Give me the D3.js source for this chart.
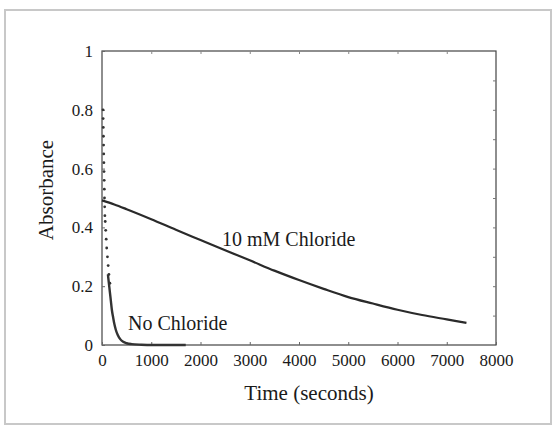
<!DOCTYPE html>
<html>
<head>
<meta charset="utf-8">
<script src="https://cdn.jsdelivr.net/npm/d3@7"></script>
<style>
  body { margin: 0; background: #fff; }
  svg text { font-family: "Times New Roman", "Liberation Serif", Times, "DejaVu Serif", serif; fill: #1a1a1a; }
</style>
</head>
<body>
<div id="chart"></div>
<script>
// values
var xTicks = [0, 1000, 2000, 3000, 4000, 5000, 6000, 7000, 8000];
var yTicks = [0, 0.2, 0.4, 0.6, 0.8, 1];
var yMinorTicks = [0.1, 0.2, 0.3, 0.4, 0.5, 0.6, 0.7, 0.8, 0.9];

var chlorideTime = [0, 250, 500, 1000, 1500, 2000, 2500, 3000, 3500, 4000, 4500, 5000, 5500, 6000, 6500, 7000, 7400];
var chlorideAbs  = [0.492, 0.478, 0.462, 0.428, 0.392, 0.357, 0.322, 0.288, 0.253, 0.221, 0.191, 0.163, 0.141, 0.120, 0.102, 0.087, 0.075];

var noClTime = [0, 3, 6, 9, 12, 15, 18, 21, 24, 27, 30, 34, 38, 45, 55, 65, 75, 90, 105, 120, 140, 160, 180, 200, 225, 250, 280, 320, 370, 430, 500, 600, 800, 1000, 1300, 1700];
var noClAbs  = [0.80, 0.77, 0.74, 0.71, 0.68, 0.65, 0.62, 0.59, 0.56, 0.53, 0.50, 0.47, 0.44, 0.42, 0.39, 0.36, 0.33, 0.30, 0.27, 0.24, 0.21, 0.18, 0.15, 0.12, 0.095, 0.072, 0.052, 0.034, 0.020, 0.011, 0.006, 0.003, 0.001, 0, 0, 0];

var W = 557, H = 433;
var plotL = 102, plotR = 496, plotT = 51, plotB = 345;

var svg = d3.select("#chart").append("svg")
    .attr("width", W)
    .attr("height", H);

// outer frame of the picture
svg.append("rect")
    .attr("x", 5).attr("y", 10)
    .attr("width", 546).attr("height", 414)
    .attr("fill", "none")
    .attr("stroke", "#c8c8c8")
    .attr("stroke-width", 2);

var x = d3.scaleLinear().domain([0, 8000]).range([plotL, plotR]);
var y = d3.scaleLinear().domain([0, 1]).range([plotB, plotT]);

// plot box
svg.append("rect")
    .attr("x", plotL).attr("y", plotT)
    .attr("width", plotR - plotL).attr("height", plotB - plotT)
    .attr("fill", "none")
    .attr("stroke", "#444")
    .attr("stroke-width", 1.2);

// axes, ticks point inward
svg.append("g")
    .attr("transform", "translate(0," + plotB + ")")
    .call(d3.axisBottom(x).tickValues(xTicks).tickFormat(d3.format("d")).tickSize(-3).tickPadding(9))
    .call(g => g.attr("font-family", null))
    .call(g => g.select(".domain").remove())
    .call(g => g.selectAll("line").attr("stroke", "#666"))
    .selectAll("text").style("font-size", "17px");

svg.append("g")
    .attr("transform", "translate(" + plotL + ",0)")
    .call(d3.axisLeft(y).tickValues(yTicks).tickFormat(d3.format("~g")).tickSize(-3).tickPadding(9))
    .call(g => g.attr("font-family", null))
    .call(g => g.select(".domain").remove())
    .call(g => g.selectAll("line").attr("stroke", "#666"))
    .selectAll("text").style("font-size", "17px");

svg.append("g")
    .attr("transform", "translate(" + plotR + ",0)")
    .call(d3.axisRight(y).tickValues(yMinorTicks).tickFormat("").tickSize(-3))
    .call(g => g.select(".domain").remove())
    .call(g => g.selectAll("line").attr("stroke", "#777"));

svg.append("g")
    .attr("transform", "translate(0," + plotT + ")")
    .call(d3.axisTop(x).tickValues(xTicks.slice(1, -1)).tickFormat("").tickSize(-3))
    .call(g => g.select(".domain").remove())
    .call(g => g.selectAll("line").attr("stroke", "#888"));

// 10 mM chloride trace
var chloride = chlorideTime.map((t, i) => ({t: t, a: chlorideAbs[i]}));
var line = d3.line()
    .x(d => x(d.t))
    .y(d => y(d.a))
    .curve(d3.curveMonotoneX);

svg.append("path")
    .datum(chloride)
    .attr("d", line)
    .attr("fill", "none")
    .attr("stroke", "#2a2a2a")
    .attr("stroke-width", 2.2);

// no chloride trace: dots for the fast start, line for the tail
var noCl = noClTime.map((t, i) => ({t: t, a: noClAbs[i]}));

svg.append("path")
    .datum(noCl.filter(d => d.a <= 0.24))
    .attr("d", line)
    .attr("fill", "none")
    .attr("stroke", "#333")
    .attr("stroke-width", 2.4);

svg.selectAll(".dot")
    .data(noCl.filter(d => d.a > 0.2))
    .enter()
    .append("circle")
    .attr("class", "dot")
    .attr("cx", d => x(d.t) + 1)
    .attr("cy", d => y(d.a))
    .attr("r", 1.4)
    .attr("fill", "#333");

// labels
svg.append("text")
    .attr("x", 309).attr("y", 400)
    .style("text-anchor", "middle")
    .style("font-size", "21px")
    .text("Time (seconds)");

svg.append("text")
    .attr("transform", "translate(53," + 190 + ")rotate(-90)")
    .style("text-anchor", "middle")
    .style("font-size", "21px")
    .text("Absorbance");

svg.append("text")
    .attr("x", 222).attr("y", 246)
    .style("font-size", "20px")
    .text("10 mM Chloride");

svg.append("text")
    .attr("x", 128).attr("y", 330)
    .style("font-size", "20px")
    .text("No Chloride");
</script>
</body>
</html>
